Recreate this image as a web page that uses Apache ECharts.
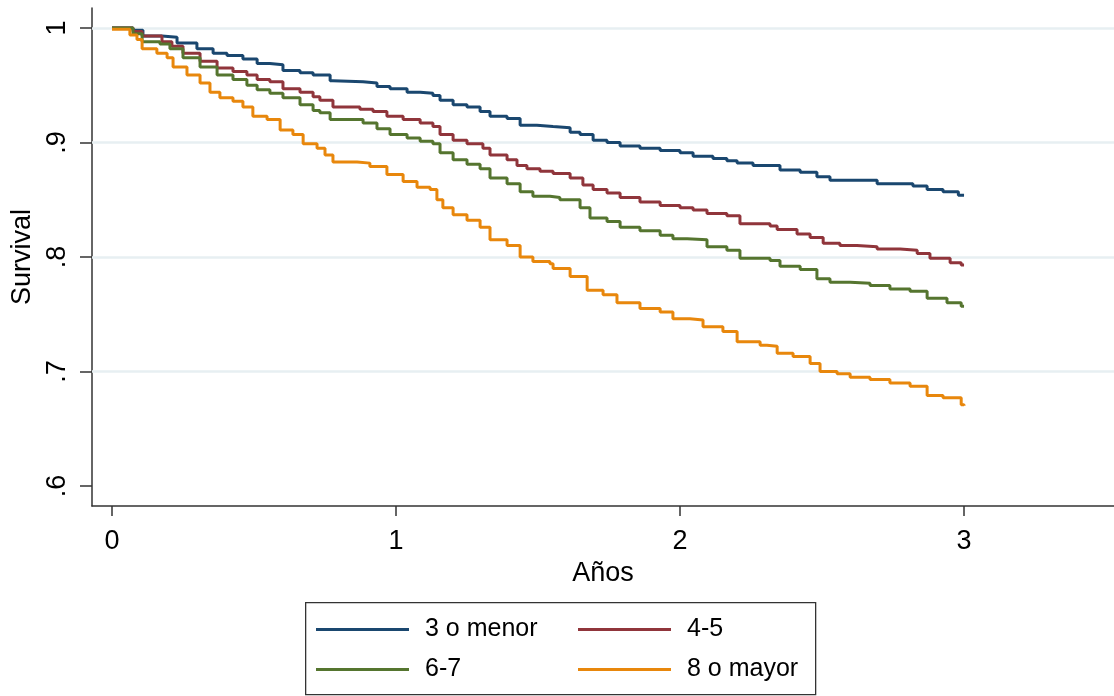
<!DOCTYPE html>
<html>
<head>
<meta charset="utf-8">
<script src="https://cdn.jsdelivr.net/npm/echarts@6/dist/echarts.min.js"></script>
<style>
  html, body { margin: 0; padding: 0; background: #fff; }
  #chart { width: 1114px; height: 696px; }
</style>
</head>
<body>
<div id="chart"></div>
<script>
// ---- Data ----
const seriesNames = ['3 o menor', '4-5', '6-7', '8 o mayor'];

const xTickValues = [0, 1, 2, 3];
const xTickLabels = ['0', '1', '2', '3'];
const yTickValues = [0.6, 0.7, 0.8, 0.9, 1.0];
const yTickLabels = ['.6', '.7', '.8', '.9', '1'];
const yGridValues = [0.7, 0.8, 0.9, 1.0];

const survMenor3 = [
  [0, 1.000], [0.074, 0.998], [0.109, 0.993], [0.176, 0.992], [0.229, 0.987], [0.299, 0.982],
  [0.356, 0.978], [0.405, 0.976], [0.461, 0.973], [0.511, 0.969], [0.556, 0.968], [0.602, 0.963],
  [0.662, 0.961], [0.708, 0.959], [0.768, 0.954], [0.778, 0.953], [0.884, 0.952], [0.933, 0.949],
  [0.979, 0.947], [1.039, 0.944], [1.085, 0.943], [1.130, 0.941], [1.155, 0.937], [1.201, 0.933],
  [1.250, 0.931], [1.296, 0.927], [1.331, 0.923], [1.391, 0.921], [1.437, 0.915], [1.496, 0.914],
  [1.553, 0.913], [1.613, 0.909], [1.648, 0.907], [1.694, 0.902], [1.743, 0.900], [1.789, 0.897],
  [1.859, 0.895], [1.930, 0.893], [2.000, 0.891], [2.046, 0.888], [2.116, 0.886], [2.165, 0.884],
  [2.201, 0.882], [2.257, 0.880], [2.352, 0.876], [2.423, 0.874], [2.482, 0.870], [2.528, 0.867],
  [2.694, 0.864], [2.820, 0.862], [2.870, 0.859], [2.926, 0.857], [2.980, 0.854], [3.000, 0.854]
];

const surv4a5 = [
  [0, 1.000], [0.074, 0.997], [0.106, 0.993], [0.176, 0.988], [0.211, 0.984], [0.250, 0.978],
  [0.310, 0.971], [0.370, 0.965], [0.426, 0.962], [0.475, 0.959], [0.511, 0.955], [0.556, 0.953],
  [0.602, 0.947], [0.662, 0.944], [0.708, 0.940], [0.732, 0.937], [0.778, 0.931], [0.873, 0.929],
  [0.919, 0.927], [0.968, 0.923], [1.025, 0.920], [1.085, 0.917], [1.130, 0.914], [1.155, 0.907],
  [1.201, 0.902], [1.250, 0.899], [1.306, 0.895], [1.331, 0.889], [1.391, 0.885], [1.426, 0.880],
  [1.461, 0.877], [1.507, 0.875], [1.553, 0.873], [1.613, 0.869], [1.658, 0.863], [1.694, 0.859],
  [1.743, 0.856], [1.789, 0.852], [1.859, 0.848], [1.930, 0.845], [2.000, 0.843], [2.046, 0.841],
  [2.095, 0.838], [2.165, 0.836], [2.211, 0.829], [2.317, 0.827], [2.342, 0.824], [2.412, 0.820],
  [2.458, 0.817], [2.504, 0.812], [2.563, 0.810], [2.623, 0.809], [2.694, 0.807], [2.775, 0.806],
  [2.835, 0.803], [2.880, 0.799], [2.951, 0.795], [2.990, 0.793], [3.000, 0.793]
];

const surv6a7 = [
  [0, 1.000], [0.074, 0.995], [0.106, 0.988], [0.169, 0.986], [0.204, 0.982], [0.250, 0.974],
  [0.310, 0.966], [0.370, 0.959], [0.426, 0.955], [0.475, 0.950], [0.511, 0.946], [0.556, 0.943],
  [0.602, 0.939], [0.662, 0.933], [0.708, 0.928], [0.732, 0.926], [0.768, 0.920], [0.884, 0.917],
  [0.933, 0.912], [0.979, 0.907], [1.039, 0.904], [1.085, 0.901], [1.130, 0.899], [1.155, 0.891],
  [1.201, 0.885], [1.250, 0.881], [1.296, 0.877], [1.331, 0.869], [1.391, 0.864], [1.437, 0.857],
  [1.482, 0.853], [1.542, 0.852], [1.577, 0.850], [1.648, 0.843], [1.683, 0.834], [1.743, 0.831],
  [1.789, 0.826], [1.859, 0.823], [1.930, 0.819], [1.975, 0.816], [2.025, 0.815], [2.095, 0.809],
  [2.165, 0.806], [2.211, 0.799], [2.317, 0.797], [2.352, 0.792], [2.423, 0.789], [2.482, 0.781],
  [2.528, 0.778], [2.599, 0.777], [2.669, 0.775], [2.739, 0.772], [2.810, 0.770], [2.870, 0.764],
  [2.940, 0.760], [2.990, 0.757], [3.000, 0.757]
];

const surv8mayor = [
  [0, 0.999], [0.063, 0.994], [0.088, 0.990], [0.106, 0.982], [0.158, 0.978], [0.194, 0.974],
  [0.215, 0.966], [0.264, 0.959], [0.310, 0.952], [0.345, 0.944], [0.380, 0.939], [0.426, 0.936],
  [0.461, 0.931], [0.496, 0.923], [0.546, 0.920], [0.592, 0.911], [0.637, 0.907], [0.673, 0.899],
  [0.722, 0.895], [0.750, 0.889], [0.778, 0.883], [0.863, 0.882], [0.908, 0.879], [0.968, 0.872],
  [1.025, 0.866], [1.074, 0.861], [1.120, 0.859], [1.144, 0.850], [1.165, 0.843], [1.201, 0.837],
  [1.250, 0.832], [1.296, 0.826], [1.331, 0.815], [1.391, 0.810], [1.437, 0.800], [1.482, 0.796],
  [1.542, 0.794], [1.553, 0.790], [1.613, 0.783], [1.673, 0.771], [1.729, 0.767], [1.778, 0.760],
  [1.859, 0.755], [1.930, 0.752], [1.975, 0.746], [2.035, 0.745], [2.081, 0.739], [2.151, 0.735],
  [2.201, 0.726], [2.282, 0.723], [2.306, 0.722], [2.342, 0.716], [2.398, 0.713], [2.458, 0.707],
  [2.493, 0.700], [2.553, 0.698], [2.599, 0.695], [2.669, 0.693], [2.739, 0.690], [2.810, 0.687],
  [2.870, 0.679], [2.926, 0.677], [2.990, 0.671], [3.000, 0.670]
];

const seriesData = [survMenor3, surv4a5, surv6a7, surv8mayor];
const colors = ['#1a476f', '#90353b', '#55752f', '#e8870c'];

// ---- Chart ----
const FONT = 'Liberation Sans, Arial, sans-serif';
const chart = echarts.init(document.getElementById('chart'), null, { renderer: 'canvas' });

function labelFor(values, labels, v) {
  for (let i = 0; i < values.length; i++) {
    if (Math.abs(values[i] - v) < 1e-6) return labels[i];
  }
  return '';
}

const legendPos = [
  { left: 316, top: 617 },
  { left: 578, top: 617 },
  { left: 316, top: 657 },
  { left: 578, top: 657 }
];

const option = {
  animation: false,
  backgroundColor: '#ffffff',
  color: colors,
  grid: { left: 92, right: 0, top: 8, bottom: 190, containLabel: false },
  xAxis: {
    type: 'value',
    min: -0.0704,
    max: 3.528,
    name: 'Años',
    nameLocation: 'middle',
    nameGap: 50,
    nameTextStyle: { fontFamily: FONT, fontSize: 27, color: '#000' },
    axisLine: { show: true, onZero: false, lineStyle: { color: '#333', width: 1.5 } },
    axisTick: { show: true, customValues: xTickValues, length: 10, lineStyle: { color: '#333', width: 1.5 } },
    axisLabel: {
      customValues: xTickValues,
      margin: 22,
      fontFamily: FONT, fontSize: 27, color: '#000',
      formatter: v => labelFor(xTickValues, xTickLabels, v)
    },
    splitLine: { show: false }
  },
  yAxis: {
    type: 'value',
    min: 0.5825,
    max: 1.0175,
    name: 'Survival',
    nameLocation: 'middle',
    nameGap: 54,
    nameRotate: 90,
    nameTextStyle: { fontFamily: FONT, fontSize: 27, color: '#000' },
    axisLine: { show: true, onZero: false, lineStyle: { color: '#333', width: 1.5 } },
    axisTick: { show: true, customValues: yTickValues, length: 12, lineStyle: { color: '#333', width: 1.5 } },
    axisLabel: {
      customValues: yTickValues,
      rotate: 90,
      margin: 21,
      fontFamily: FONT, fontSize: 27, color: '#000',
      formatter: v => labelFor(yTickValues, yTickLabels, v)
    },
    splitLine: { show: false }
  },
  legend: seriesNames.map((n, i) => ({
    data: [n],
    left: legendPos[i].left,
    top: legendPos[i].top,
    padding: 0,
    icon: 'rect',
    itemWidth: 93,
    itemHeight: 3,
    textStyle: { fontFamily: FONT, fontSize: 25, color: '#000', padding: [0, 0, 0, 11] }
  })),
  graphic: [{
    type: 'rect',
    left: 305, top: 602,
    shape: { width: 510, height: 92 },
    style: { fill: '#fff', stroke: '#333', lineWidth: 1.3 },
    z: -1
  }],
  series: [
    {
      name: '_grid',
      type: 'line',
      data: [],
      silent: true,
      z: 1,
      markLine: {
        silent: true,
        z: 1,
        symbol: ['none', 'none'],
        label: { show: false },
        lineStyle: { color: '#e7eff2', width: 2.5, type: 'solid' },
        data: yGridValues.map(v => ({ yAxis: v }))
      }
    }
  ].concat(seriesNames.map((n, i) => ({
    name: n,
    type: 'line',
    step: 'end',
    data: seriesData[i],
    showSymbol: false,
    symbol: 'none',
    z: 4,
    lineStyle: { color: colors[i], width: 3 },
    itemStyle: { color: colors[i] }
  })))
};

chart.setOption(option);
</script>
</body>
</html>
